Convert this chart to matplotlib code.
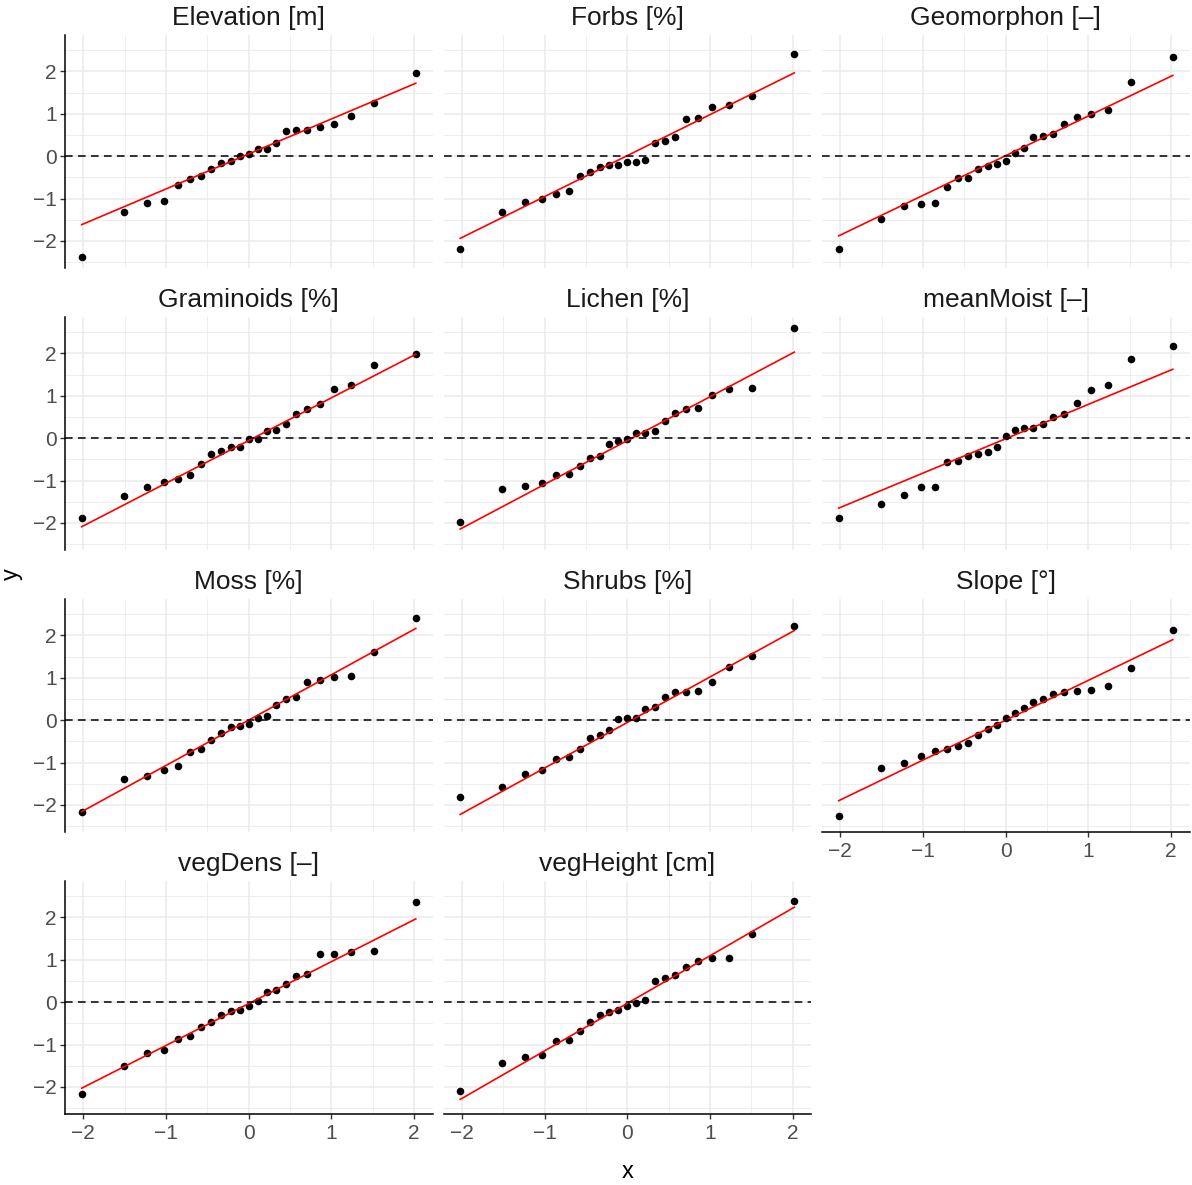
import matplotlib
matplotlib.use("Agg")
import matplotlib.pyplot as plt
import numpy as np
from statistics import NormalDist

plt.rcParams["font.family"] = ["Liberation Sans", "DejaVu Sans"]

# Panel titles, in facet order
titles = [
    "Elevation [m]", "Forbs [%]", "Geomorphon [\u2013]",
    "Graminoids [%]", "Lichen [%]", "meanMoist [\u2013]",
    "Moss [%]", "Shrubs [%]", "Slope [\u00b0]",
    "vegDens [\u2013]", "vegHeight [cm]",
]

# Standardised sample values for each variable
elevation = [-2.39, -1.31, -1.11, -1.06, -0.67, -0.54, -0.47, -0.31, -0.17, -0.12,
             0.00, 0.05, 0.17, 0.18, 0.31, 0.59, 0.61, 0.61, 0.68, 0.76, 0.94, 1.25, 1.97]
forbs = [-2.18, -1.32, -1.08, -1.00, -0.90, -0.82, -0.46, -0.38, -0.26, -0.20,
         -0.20, -0.14, -0.14, -0.08, 0.31, 0.35, 0.46, 0.87, 0.90, 1.17, 1.20, 1.41, 2.41]
geomorphon = [-2.20, -1.49, -1.17, -1.13, -1.11, -0.72, -0.52, -0.51, -0.31, -0.23,
              -0.18, -0.12, 0.07, 0.20, 0.45, 0.48, 0.53, 0.76, 0.93, 1.00, 1.10, 1.76, 2.34]
graminoids = [-1.88, -1.37, -1.15, -1.04, -0.97, -0.87, -0.60, -0.37, -0.31, -0.20,
              -0.20, -0.02, -0.01, 0.17, 0.20, 0.33, 0.57, 0.68, 0.81, 1.17, 1.26, 1.72, 1.98]
lichen = [-1.98, -1.21, -1.13, -1.06, -0.86, -0.85, -0.66, -0.46, -0.43, -0.13,
          -0.06, -0.03, 0.11, 0.13, 0.16, 0.40, 0.60, 0.68, 0.71, 1.01, 1.17, 1.19, 2.61]
mean_moist = [-1.88, -1.56, -1.34, -1.16, -1.16, -0.57, -0.55, -0.41, -0.38, -0.33,
              -0.20, 0.04, 0.20, 0.24, 0.24, 0.34, 0.50, 0.57, 0.82, 1.13, 1.25, 1.88, 2.18]
moss = [-2.17, -1.39, -1.32, -1.17, -1.09, -0.75, -0.69, -0.47, -0.31, -0.15,
        -0.14, -0.08, 0.04, 0.09, 0.35, 0.51, 0.54, 0.91, 0.94, 1.02, 1.05, 1.61, 2.41]
shrubs = [-1.81, -1.58, -1.28, -1.17, -0.92, -0.87, -0.69, -0.43, -0.36, -0.24,
          0.02, 0.04, 0.06, 0.26, 0.31, 0.54, 0.67, 0.67, 0.68, 0.91, 1.25, 1.52, 2.23]
slope = [-2.26, -1.13, -1.02, -0.84, -0.73, -0.67, -0.60, -0.54, -0.35, -0.20,
         -0.11, 0.05, 0.16, 0.29, 0.43, 0.50, 0.61, 0.66, 0.70, 0.72, 0.80, 1.24, 2.13]
veg_dens = [-2.16, -1.51, -1.19, -1.13, -0.87, -0.81, -0.59, -0.46, -0.30, -0.20,
            -0.19, -0.10, 0.02, 0.25, 0.29, 0.43, 0.61, 0.66, 1.14, 1.14, 1.19, 1.20, 2.37]
veg_height = [-2.10, -1.44, -1.30, -1.25, -0.92, -0.90, -0.67, -0.48, -0.30, -0.24,
              -0.18, -0.09, -0.03, 0.06, 0.50, 0.57, 0.63, 0.83, 0.98, 1.05, 1.05, 1.60, 2.39]

samples = [elevation, forbs, geomorphon, graminoids, lichen, mean_moist,
           moss, shrubs, slope, veg_dens, veg_height]

x_ticks = [-2, -1, 0, 1, 2]
y_ticks = [-2, -1, 0, 1, 2]

nd = NormalDist()


def qq(values):
    """Theoretical normal quantiles (ppoints) and the sorted sample."""
    y = np.sort(np.asarray(values, dtype=float))
    n = len(y)
    a = 0.375 if n <= 10 else 0.5
    p = (np.arange(1, n + 1) - a) / (n + 1 - 2 * a)
    x = np.array([nd.inv_cdf(v) for v in p])
    return x, y


def qq_line(values, x):
    """Line through the first and third quartiles."""
    yq = np.quantile(values, [0.25, 0.75])
    xq = np.array([nd.inv_cdf(0.25), nd.inv_cdf(0.75)])
    slope_ = (yq[1] - yq[0]) / (xq[1] - xq[0])
    inter = yq[0] - slope_ * xq[0]
    xs = np.array([x.min(), x.max()])
    return xs, inter + slope_ * xs


# Shared scales across facets
all_x, all_y = [], []
panels = []
for vals in samples:
    x, y = qq(vals)
    lx, ly = qq_line(vals, x)
    panels.append((x, y, lx, ly))
    all_x += list(x) + list(lx)
    all_y += list(y) + list(ly) + [0.0]
xr = max(all_x) - min(all_x)
yr = max(all_y) - min(all_y)
xlim = (min(all_x) - 0.05 * xr, max(all_x) + 0.05 * xr)
ylim = (min(all_y) - 0.05 * yr, max(all_y) + 0.05 * yr)

W, H = 1192, 1185
fig = plt.figure(figsize=(W / 100, H / 100), dpi=100)

col_left = [65, 443.5, 822]
row_top = [35, 317, 599, 881]
pw, ph = 367.5, 233

grid_col = "#EBEBEB"
tick_col = "#4D4D4D"
ncol = 3
n = len(samples)

for i, (title, (x, y, lx, ly)) in enumerate(zip(titles, panels)):
    r, c = divmod(i, ncol)
    ax = fig.add_axes([col_left[c] / W, 1 - (row_top[r] + ph) / H, pw / W, ph / H])
    ax.set_xlim(*xlim)
    ax.set_ylim(*ylim)

    ax.set_xticks(x_ticks)
    ax.set_xticks([-1.5, -0.5, 0.5, 1.5], minor=True)
    ax.set_yticks(y_ticks)
    ax.set_yticks([-2.5, -1.5, -0.5, 0.5, 1.5, 2.5], minor=True)
    ax.grid(which="major", color=grid_col, linewidth=1.1, zorder=0)
    ax.grid(which="minor", color=grid_col, linewidth=0.6, zorder=0)
    ax.set_axisbelow(True)

    ax.scatter(x, y, s=30, color="black", linewidths=0, zorder=3)
    ax.plot(lx, ly, color="#FF0000", linewidth=1.2, zorder=4)
    ax.axhline(0, color="black", linewidth=1.1, dashes=(5, 3.5), zorder=5)

    for side in ("top", "right", "left", "bottom"):
        ax.spines[side].set_visible(False)

    show_y = c == 0
    show_x = (i + ncol) >= n
    if show_y:
        ax.spines["left"].set_visible(True)
        ax.spines["left"].set_linewidth(1.1)
        ax.spines["left"].set_color("black")
    if show_x:
        ax.spines["bottom"].set_visible(True)
        ax.spines["bottom"].set_linewidth(1.1)
        ax.spines["bottom"].set_color("black")

    ax.tick_params(axis="y", which="major", left=show_y, labelleft=show_y,
                   length=3.5, width=1.0, color="#333333", labelcolor=tick_col,
                   labelsize=15, pad=2.5)
    ax.tick_params(axis="x", which="major", bottom=show_x, labelbottom=show_x,
                   length=3.5, width=1.0, color="#333333", labelcolor=tick_col,
                   labelsize=15, pad=4)
    ax.tick_params(which="minor", length=0)

    ax.set_title(title, fontsize=19, color="#1A1A1A", pad=7)

fig.text((65 + 1189.5) / 2 / W, 1 - 1172 / H, "x", ha="center", va="center", fontsize=17)
fig.text(12 / W, 1 - 574 / H, "y", ha="center", va="center", rotation=90, fontsize=17)

fig.savefig("out.png", dpi=100)
